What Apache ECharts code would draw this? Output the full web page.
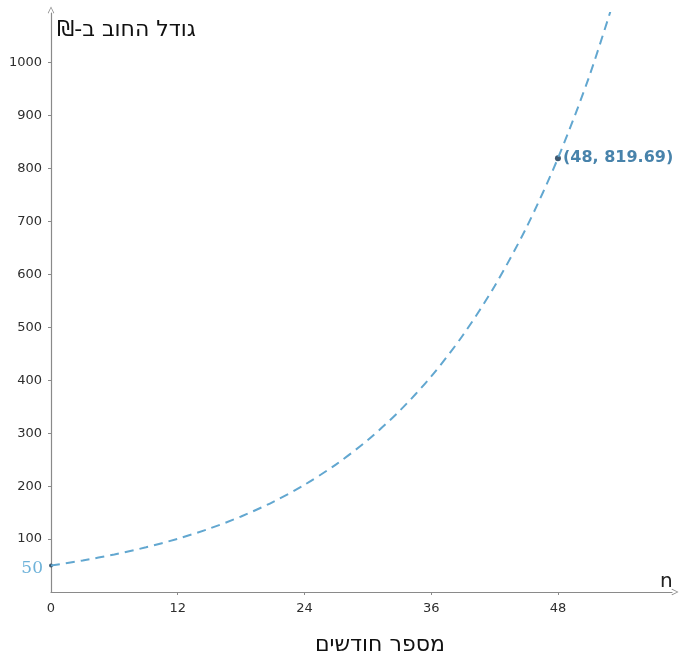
<!DOCTYPE html>
<html><head><meta charset="utf-8">
<script src="https://cdn.jsdelivr.net/npm/echarts@6/dist/echarts.min.js"></script>
<style>html,body{margin:0;padding:0;background:#fff}#c{width:679px;height:657px}</style>
</head><body><div id="c"></div>
<script>
// values
var months = [0, 3, 6, 9, 12, 15, 18, 21, 24, 27, 30, 33, 36, 39, 42, 45, 48, 51, 54];
var debt = [50, 59.6, 70.9, 84.5, 100.6, 119.8, 142.7, 170, 202.5, 241.2, 287.2, 342.1, 407.3, 485.1, 577.8, 688.1, 819.69, 976.3, 1162.8];
var xTicks = [0, 12, 24, 36, 48];
var yTicks = [100, 200, 300, 400, 500, 600, 700, 800, 900, 1000];
var marked = [[0, 50, '50'], [48, 819.69, '(48, 819.69)']];
var yTitle = 'גודל החוב ב-₪';
var xTitle = 'מספר חודשים';
var xVar = 'n';

function rtl(s) { return '\u202B' + s + '\u202C'; }

var chevron = 'path://M0,10 L5,0 L10,10 L9,10.8 L5,2.4 L1,10.8 Z';
var axisColor = '#8a8a8a';
var chart = echarts.init(document.getElementById('c'));
chart.setOption({
  animation: false,
  grid: {left: 51, right: 7, top: 13, bottom: 65},
  xAxis: {
    type: 'value', min: 0, max: 58.8,
    splitLine: {show: false},
    axisLine: {lineStyle: {color: axisColor, width: 1.2}, symbol: ['none', chevron], symbolSize: [10, 7], symbolOffset: [0, 3]},
    axisTick: {customValues: xTicks.slice(1), length: 3, lineStyle: {color: axisColor}},
    axisLabel: {customValues: xTicks, margin: 10, color: '#2e2e2e', fontFamily: 'DejaVu Sans', fontSize: 13,
      formatter: function (v) { return String(v); }},
    name: xVar, nameLocation: 'end', nameGap: -12,
    nameTextStyle: {color: '#222', fontFamily: 'DejaVu Sans', fontSize: 20, verticalAlign: 'bottom'}
  },
  yAxis: {
    type: 'value', min: 0, max: 1094,
    splitLine: {show: false},
    axisLine: {lineStyle: {color: axisColor, width: 1.2}, symbol: ['none', chevron], symbolSize: [10, 7], symbolOffset: [0, 3]},
    axisTick: {customValues: yTicks, length: 3, lineStyle: {color: axisColor}},
    axisLabel: {customValues: yTicks, margin: 9, color: '#2e2e2e', fontFamily: 'DejaVu Sans', fontSize: 13,
      formatter: function (v) { return String(v); }}
  },
  graphic: [
    {type: 'text', left: 57, top: 19, style: {text: rtl(yTitle), font: '22px "DejaVu Sans"', fill: '#111'}},
    {type: 'text', left: 315, top: 634, style: {text: rtl(xTitle), font: '22px "DejaVu Sans"', fill: '#111'}}
  ],
  series: [
    {
      type: 'line', data: months.map(function (m, i) { return [m, debt[i]]; }),
      smooth: 0.3, showSymbol: false, clip: true,
      lineStyle: {color: '#62a7d0', width: 2, type: [9, 6]}
    },
    {
      type: 'scatter', symbolSize: 6, clip: false,
      itemStyle: {color: '#0e2f4d'},
      data: [
        {value: [marked[0][0], marked[0][1]], symbolSize: 4,
          label: {show: true, position: 'left', distance: 6, offset: [0, 3], formatter: marked[0][2], color: '#4a9fd0', fontFamily: 'DejaVu Serif', fontSize: 17}},
        {value: [marked[1][0], marked[1][1]],
          label: {show: true, position: 'right', distance: 2, formatter: marked[1][2], color: '#1a6496', fontFamily: 'DejaVu Sans', fontWeight: 'bold', fontSize: 16}}
      ]
    }
  ]
});
</script></body></html>
